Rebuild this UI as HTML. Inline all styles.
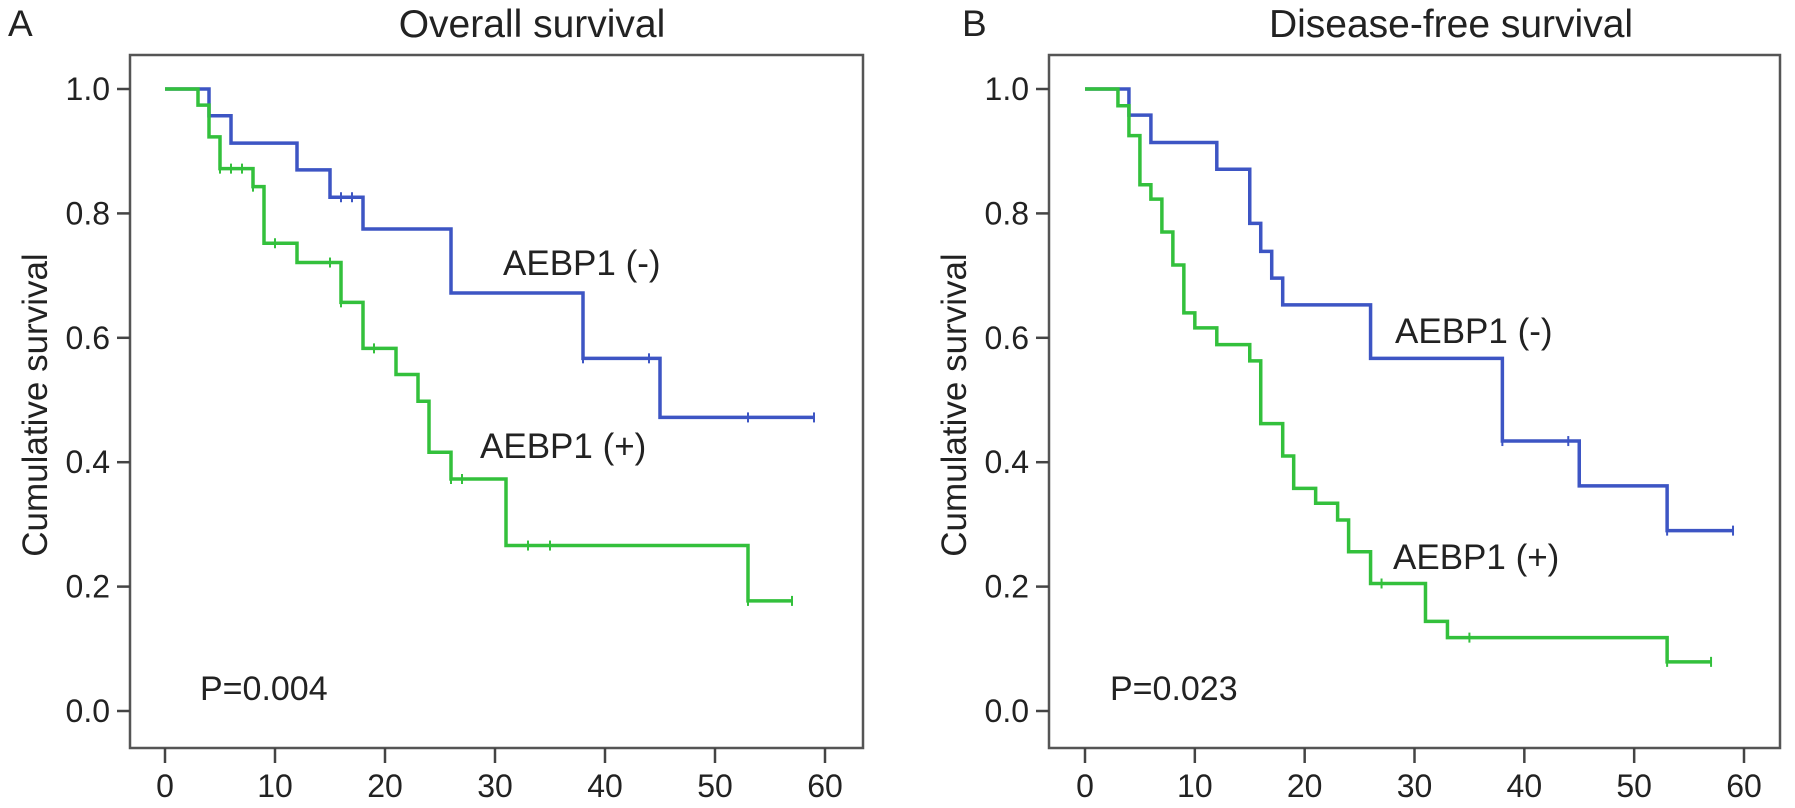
<!DOCTYPE html>
<html><head><meta charset="utf-8"><style>
body{margin:0;background:#fff}
svg text{font-family:"Liberation Sans",sans-serif;fill:#222}
</style></head><body>
<svg id="c" width="1795" height="803" xmlns="http://www.w3.org/2000/svg"></svg>
<script>
// Panel A (Overall survival)
const aNegTimes=[4,6,12,15,18,26,38,45];
const aNegSurv=[0.957,0.913,0.870,0.826,0.775,0.672,0.567,0.472];
const aNegCens=[16,17,38,44,53,59];
const aNegEnd=59;
const aPosTimes=[3,4,5,8,9,12,16,18,21,23,24,26,31,53];
const aPosSurv=[0.974,0.923,0.872,0.843,0.752,0.721,0.657,0.583,0.541,0.498,0.416,0.373,0.266,0.177];
const aPosCens=[5,6,7,8,10,15,16,19,26,27,33,35,53,57];
const aPosEnd=57;
// Panel B (Disease-free survival)
const bNegTimes=[4,6,12,15,16,17,18,26,38,45,53];
const bNegSurv=[0.958,0.914,0.871,0.784,0.739,0.696,0.653,0.567,0.434,0.362,0.290];
const bNegCens=[38,44,53,59];
const bNegEnd=59;
const bPosTimes=[3,4,5,6,7,8,9,10,12,15,16,18,19,21,23,24,26,31,33,53];
const bPosSurv=[0.973,0.925,0.846,0.823,0.770,0.717,0.640,0.616,0.589,0.563,0.462,0.410,0.358,0.334,0.307,0.256,0.205,0.144,0.118,0.079];
const bPosCens=[27,35,53,57];
const bPosEnd=57;
const xTicks=[0,10,20,30,40,50,60];
const yTicks=[0,0.2,0.4,0.6,0.8,1.0];

const NS="http://www.w3.org/2000/svg";
const svg=document.getElementById('c');
function mk(tag,attrs,parent){const e=document.createElementNS(NS,tag);for(const k in attrs)e.setAttribute(k,attrs[k]);(parent||svg).appendChild(e);return e;}

function panel(cfg){
  const g=mk('g',{});
  
  
  const x=t=>cfg.x0+t*(cfg.x60-cfg.x0)/60;
  const y=s=>711-s*622;
  const box=mk('rect',{x:cfg.left,y:55,width:cfg.right-cfg.left,height:693,fill:'none',stroke:'#555','stroke-width':2.5},g);
  
  
  xTicks.forEach(t=>{
    mk('line',{x1:x(t),x2:x(t),y1:748,y2:763,stroke:'#444','stroke-width':2.5},g);
    const tx=mk('text',{x:x(t),y:797,'font-size':32,'text-anchor':'middle'},g);
    tx.textContent=t;
    
    
  });
  yTicks.forEach(v=>{
    mk('line',{x1:cfg.left-13,x2:cfg.left,y1:y(v),y2:y(v),stroke:'#444','stroke-width':2.5},g);
    const tx=mk('text',{x:cfg.left-20,y:y(v)+11,'font-size':32,'text-anchor':'end'},g);
    tx.textContent=v.toFixed(1);
    
    
  });
  const yt=mk('text',{x:0,y:0,'font-size':35,'text-anchor':'middle',transform:`translate(${cfg.left-83},405) rotate(-90)`},g);
  yt.textContent='Cumulative survival';
  
  
  const ti=mk('text',{x:cfg.titleX,y:37,'font-size':39,'text-anchor':'middle'},g);
  ti.textContent=cfg.title;
  
  
  const lt=mk('text',{x:cfg.letterX,y:36,'font-size':37},g);
  lt.textContent=cfg.letter;
  
  
  function curve(times,surv,cens,end,color,nm){
    let d=`M${x(0)},${y(1)}`;
    times.forEach((t,i)=>{d+=` H${x(t)} V${y(surv[i])}`;});
    d+=` H${x(end)}`;
    const p=mk('path',{d:d,fill:'none',stroke:color,'stroke-width':3.5},g);
    
    
    cens.forEach(c=>{
      let sv=1;times.forEach((t,i)=>{if(t<=c)sv=surv[i];});
      const m=mk('line',{x1:x(c),x2:x(c),y1:y(sv)-5,y2:y(sv)+5,stroke:color,'stroke-width':2},g);
      
      
    });
  }
  curve(cfg.neg[0],cfg.neg[1],cfg.neg[2],cfg.neg[3],'#3d55c4','aebp1-negative-curve');
  curve(cfg.pos[0],cfg.pos[1],cfg.pos[2],cfg.pos[3],'#33c03c','aebp1-positive-curve');
  const l1=mk('text',{x:cfg.negLbl[0],y:cfg.negLbl[1]+12,'font-size':35},g);
  l1.textContent='AEBP1 (-)';
  
  
  const l2=mk('text',{x:cfg.posLbl[0],y:cfg.posLbl[1]+12,'font-size':35},g);
  l2.textContent='AEBP1 (+)';
  
  
  const pv=mk('text',{x:cfg.pX,y:700,'font-size':34},g);
  pv.textContent=cfg.p;
  
  
}
panel({name:'panel-a-overall-survival',left:130,right:863,x0:165,x60:825,title:'Overall survival',titleX:532,letter:'A',letterX:8,
  neg:[aNegTimes,aNegSurv,aNegCens,aNegEnd],pos:[aPosTimes,aPosSurv,aPosCens,aPosEnd],negLbl:[503,263],posLbl:[480,446],pX:200,p:'P=0.004'});
panel({name:'panel-b-disease-free-survival',left:1049,right:1780,x0:1085,x60:1744,title:'Disease-free survival',titleX:1451,letter:'B',letterX:962,
  neg:[bNegTimes,bNegSurv,bNegCens,bNegEnd],pos:[bPosTimes,bPosSurv,bPosCens,bPosEnd],negLbl:[1395,331],posLbl:[1393,557],pX:1110,p:'P=0.023'});
</script>
</body></html>
